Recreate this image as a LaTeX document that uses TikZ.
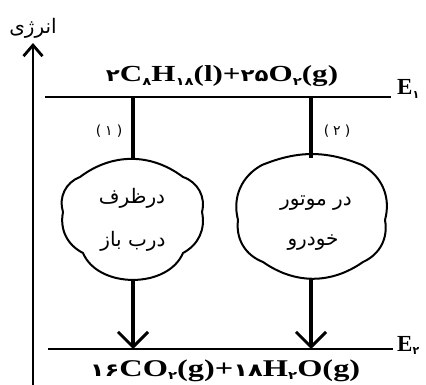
\documentclass[tikz,border=0pt]{standalone}
\usepackage{fontspec}
\setmainfont{Liberation Serif}
\TeXXeTstate=1
\newfontfamily\arabicfont[Script=Arabic]{DejaVu Sans}
\newfontfamily\pdigits{DejaVu Sans}
\usetikzlibrary{arrows.meta}
\newcommand{\pd}[2][17]{{\fontsize{#1}{#1}\selectfont\pdigits\bfseries #2}}
\newcommand{\psub}[1]{\raisebox{-0.35ex}{\fontsize{11}{11}\selectfont\pdigits\bfseries #1}}
\newcommand{\hstretch}[1]{\scalebox{1.35}[1]{#1}}
\tikzset{
  lvl/.style={line width=2.6pt},
  conn/.style={line width=3.2pt},
  downarr/.style={conn, -{Straight Barb[length=15pt,width=30pt,line width=3pt]}},
  axisarr/.style={line width=2.6pt, -{Straight Barb[length=11pt,width=19pt,line width=2.8pt]}},
  cloudline/.style={line width=2pt, line join=round},
  formula/.style={font=\fontsize{23}{23}\selectfont\bfseries, inner sep=0pt},
  formulab/.style={font=\fontsize{24}{24}\selectfont\bfseries, inner sep=0pt},
  elab/.style={font=\fontsize{23}{23}\selectfont\bfseries, inner sep=0pt},
  numlab/.style={font=\fontsize{14}{14}\selectfont\pdigits, inner sep=0pt},
  fatext/.style={font=\fontsize{20}{20}\selectfont\arabicfont, inner sep=0pt},
  axtext/.style={font=\fontsize{20}{20}\selectfont\arabicfont, inner sep=0pt},
}
\begin{document}
\begin{tikzpicture}[x=1pt,y=-1pt]
\useasboundingbox (0,0) rectangle (426,385);
% axis
\coordinate (axB) at (33,385);
\coordinate (axT) at (33,43);
\draw[axisarr] (axB) -- (axT);
\node[axtext] (axlab) at (33,28) {\beginR انرژی\endR};
% levels
\coordinate (t1) at (45,97); \coordinate (t2) at (391,97);
\coordinate (b1) at (48,349); \coordinate (b2) at (393,349);
\draw[lvl] (t1) -- (t2);
\draw[lvl] (b1) -- (b2);
\node[elab, anchor=base west] (E1) at (397,95) {E\psub{۱}};
\node[elab, anchor=base west] (E2) at (397,351) {E\psub{۲}};
\node[formula, anchor=base] (top) at (222,82) {\hstretch{\pd{۲}C\psub{۸}H\psub{۱۸}(l)+\pd{۲۵}O\psub{۲}(g)}};
\node[formulab, anchor=base] (bot) at (225,376) {\hstretch{\pd[18]{۱۶}CO\psub{۲}(g)+\pd[18]{۱۸}H\psub{۲}O(g)}};
% left path
\coordinate (tL) at (133,97); \coordinate (cLt) at (133,159);
\coordinate (cLb) at (133,280); \coordinate (bL) at (133,349);
\draw[conn] (tL) -- (cLt);
\draw[downarr] (cLb) -- (bL);
\node[numlab] (n1) at (109,131) {(\hspace{4pt}۱\hspace{4pt})};
\draw[cloudline] (80,177) to[bend left=37] (183,177) to[bend left=43] (202,212)
  to[bend left=37] (183,253) to[bend left=67] (83,253) to[bend left=37] (63,212)
  to[bend left=44] (80,177);
\node[fatext] (l1) at (132,198) {\beginR درظرف\endR};
\node[fatext] (l2) at (133,241) {\beginR درب باز\endR};
% right path
\coordinate (tR) at (311,97); \coordinate (cRt) at (311,158);
\coordinate (cRb) at (311,279); \coordinate (bR) at (311,349);
\draw[conn] (tR) -- (cRt);
\draw[downarr] (cRb) -- (bR);
\node[numlab] (n2) at (337,131) {(\hspace{4pt}۲\hspace{4pt})};
\draw[cloudline] (262,165) to[bend left=22] (362,165) to[bend left=38] (385,220)
  to[bend left=38] (363,262) to[bend left=35] (263,262) to[bend left=38] (238,220)
  to[bend left=38] (262,165);
\node[fatext] (r1) at (316,203) {\beginR در موتور\endR};
\node[fatext] (r2) at (313,243) {\beginR خودرو\endR};
\end{tikzpicture}
\end{document}
